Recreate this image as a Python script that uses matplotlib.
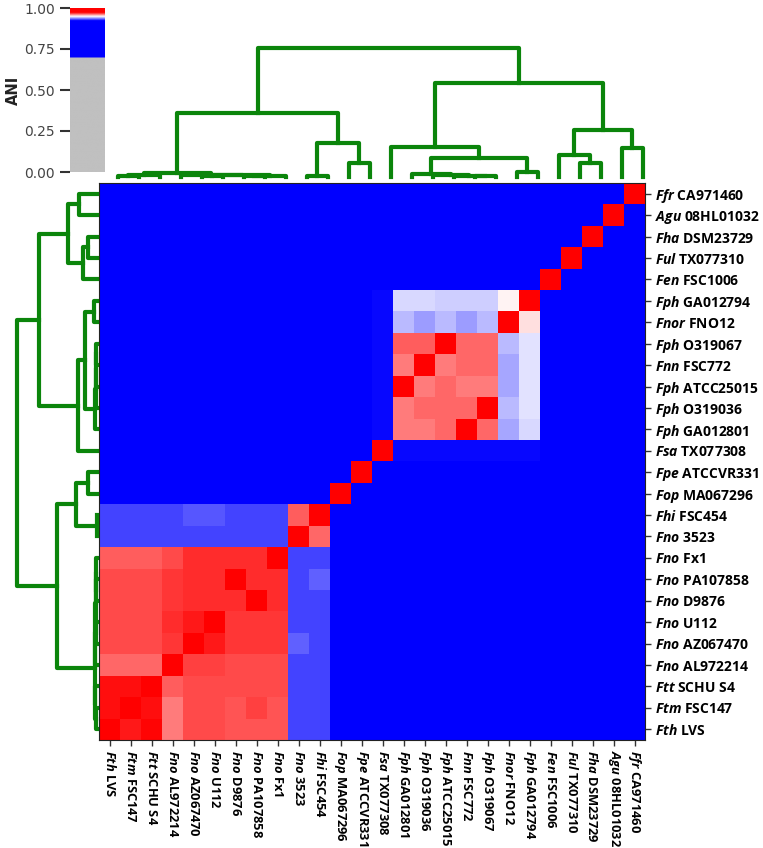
import numpy as np
import matplotlib.pyplot as plt
from matplotlib.colors import LinearSegmentedColormap, Normalize

plt.rcParams['mathtext.fontset'] = 'custom'
plt.rcParams['mathtext.it'] = 'Open Sans:italic:bold'
plt.rcParams['mathtext.rm'] = 'Open Sans:bold'
plt.rcParams['mathtext.bf'] = 'Open Sans:bold'

# genomes in column order (left -> right); rows run the other way (top = last)
species = ['Fth', 'Ftm', 'Ftt', 'Fno', 'Fno', 'Fno', 'Fno', 'Fno', 'Fno', 'Fno',
           'Fhi', 'Fop', 'Fpe', 'Fsa', 'Fph', 'Fph', 'Fph', 'Fnn', 'Fph', 'Fnor',
           'Fph', 'Fen', 'Ful', 'Fha', 'Agu', 'Ffr']
strains = ['LVS', 'FSC147', 'SCHU S4', 'AL972214', 'AZ067470', 'U112', 'D9876',
           'PA107858', 'Fx1', '3523', 'FSC454', 'MA067296', 'ATCCVR331', 'TX077308',
           'GA012801', 'O319036', 'ATCC25015', 'FSC772', 'O319067', 'FNO12',
           'GA012794', 'FSC1006', 'TX077310', 'DSM23729', '08HL01032', 'CA971460']

# ANI between genomes outside the related groups (all plotted pure blue)
background_ani = 0.80

# F. tularensis / F. novicida group + Fno 3523 / Fhi FSC454 (genomes 0-10)
tul_block = [
    [1.000, 0.9725, 0.974, 0.9625, 0.9675, 0.9675, 0.966, 0.966, 0.966, 0.931, 0.931],
    [0.973, 1.000, 0.973, 0.9625, 0.9675, 0.9675, 0.966, 0.968, 0.966, 0.931, 0.931],
    [0.973, 0.973, 1.000, 0.965, 0.967, 0.967, 0.967, 0.967, 0.967, 0.931, 0.931],
    [0.9645, 0.9645, 0.9645, 1.000, 0.968, 0.968, 0.967, 0.967, 0.967, 0.931, 0.931],
    [0.9675, 0.9675, 0.9675, 0.969, 1.000, 0.972, 0.9695, 0.9695, 0.9695, 0.934, 0.931],
    [0.9675, 0.9675, 0.9675, 0.970, 0.972, 1.000, 0.9695, 0.9695, 0.9695, 0.931, 0.931],
    [0.9675, 0.9675, 0.9675, 0.969, 0.970, 0.970, 0.970, 1.000, 0.970, 0.931, 0.931],
    [0.9675, 0.9675, 0.9675, 0.969, 0.970, 0.970, 1.000, 0.970, 0.970, 0.931, 0.934],
    [0.965, 0.965, 0.965, 0.9675, 0.970, 0.970, 0.970, 0.970, 1.000, 0.931, 0.931],
    [0.931, 0.931, 0.931, 0.931, 0.931, 0.931, 0.931, 0.931, 0.931, 1.000, 0.964],
    [0.931, 0.931, 0.931, 0.931, 0.933, 0.933, 0.931, 0.931, 0.931, 0.965, 1.000],
]

# F. philomiragia group (genomes 14-20)
phil_block = [
    [0.9625, 0.9625, 0.964, 1.000, 0.964, 0.941, 0.9455],
    [0.9625, 0.9645, 0.9645, 0.964, 1.000, 0.943, 0.947],
    [1.000, 0.9625, 0.964, 0.9625, 0.9625, 0.941, 0.947],
    [0.9625, 1.000, 0.9625, 0.964, 0.964, 0.941, 0.947],
    [0.965, 0.965, 1.000, 0.964, 0.964, 0.943, 0.947],
    [0.9425, 0.940, 0.943, 0.940, 0.943, 1.000, 0.9525],
    [0.946, 0.946, 0.945, 0.945, 0.945, 0.951, 1.000],
]
fsa_vs_phil = [0.9253, 0.9253, 0.9253, 0.9253, 0.9253, 0.9253, 0.9253]

# hierarchical clustering merges: (node a, node b, height), new nodes numbered from 26
merges = [
    (0, 1, 1.5), (26, 2, 2.5), (4, 5, 1.0), (6, 7, 1.0), (29, 8, 1.5),
    (28, 30, 2.0), (3, 31, 2.5), (27, 32, 4.0),
    (9, 10, 0.8), (11, 12, 14), (34, 35, 34), (33, 36, 64),
    (17, 18, 1.0), (16, 38, 1.5), (15, 39, 2.0), (14, 40, 3.0),
    (19, 20, 5), (41, 42, 19), (13, 43, 30),
    (22, 23, 14), (21, 45, 22), (24, 25, 29), (46, 47, 47),
    (44, 48, 94), (37, 49, 129),
]

n = len(species)
ani = np.full((n, n), background_ani)
ani[0:11, 0:11] = tul_block
ani[14:21, 14:21] = phil_block
ani[13, 14:21] = fsa_vs_phil
ani[14:21, 13] = fsa_vs_phil
for i in [11, 12, 13, 21, 22, 23, 24, 25]:
    ani[i, i] = 1.0

cmap = LinearSegmentedColormap.from_list('ani', [
    (0.0, '#c0c0c0'), (0.699, '#c0c0c0'), (0.70, '#0000ff'), (0.925, '#0000ff'),
    (0.95, '#ffffff'), (0.975, '#ff0000'), (1.0, '#ff0000')], N=1024)
norm = Normalize(0, 1)

W, H = 763, 848
fig = plt.figure(figsize=(W / 100, H / 100), dpi=100)

def box(l, t, r, b):
    return [l / W, 1 - b / H, (r - l) / W, (b - t) / H]

# heatmap
ax = fig.add_axes(box(99, 183, 645, 740))
ax.imshow(ani[::-1], cmap=cmap, norm=norm, aspect='auto', interpolation='nearest')
labels = [r'$\mathit{%s}$ %s' % (s, st) for s, st in zip(species, strains)]
ax.set_xticks(range(n))
ax.set_xticklabels(labels, rotation=270, fontsize=9.3, fontweight='bold',
                   family='Open Sans')
ax.yaxis.tick_right()
ax.set_yticks(range(n))
ax.set_yticklabels(labels[::-1], fontsize=10, fontweight='bold', family='Open Sans')
ax.tick_params(length=4, width=1, color='#333333', pad=3)
for sp in ax.spines.values():
    sp.set_linewidth(0.8)
    sp.set_color('#222222')

# dendrograms
def dendro_segments(merges, n):
    pos = {i: float(i) for i in range(n)}
    hgt = {i: 0.0 for i in range(n)}
    segs = []
    for k, (a, b, h) in enumerate(merges):
        segs.append(([pos[a], pos[a], pos[b], pos[b]], [hgt[a], h, h, hgt[b]]))
        pos[n + k] = (pos[a] + pos[b]) / 2
        hgt[n + k] = h
    return segs

green = '#0b850b'
segs = dendro_segments(merges, n)
root_h = merges[-1][2]

axt = fig.add_axes(box(107, 48, 653, 177))
for xs, ys in segs:
    axt.plot(xs, ys, color=green, lw=3, clip_on=False)
axt.set_xlim(-0.5, n - 0.5)
axt.set_ylim(0, root_h)
axt.axis('off')

axl = fig.add_axes(box(17, 183, 97, 740))
for xs, ys in segs:
    axl.plot(ys, [n - 1 - x for x in xs], color=green, lw=3, clip_on=False)
axl.set_xlim(root_h, 0)
axl.set_ylim(n - 0.5, -0.5)
axl.axis('off')

# colour key
cax = fig.add_axes(box(70, 8, 105, 172))
grad = np.linspace(0, 1, 500).reshape(-1, 1)
cax.imshow(grad, cmap=cmap, norm=norm, origin='lower', extent=[0, 1, 0, 1],
           aspect='auto')
cax.set_xticks([])
cax.set_yticks([0, 0.25, 0.5, 0.75, 1.0])
cax.set_yticklabels(['0.00', '0.25', '0.50', '0.75', '1.00'], fontsize=10, color='#444444')
cax.tick_params(axis='y', length=7, width=1.5, color='#333333', pad=4)
cax.set_ylabel('ANI', fontsize=10.5, fontweight='bold', color='#222222', labelpad=2)
for sp in cax.spines.values():
    sp.set_visible(False)

fig.savefig('out.png', dpi=100)
